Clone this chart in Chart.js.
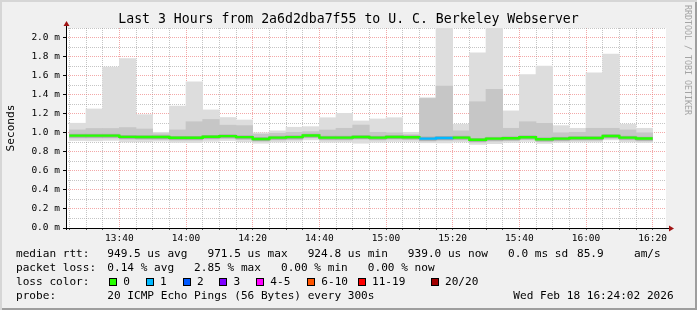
<!DOCTYPE html>
<html>
<head>
<meta charset="utf-8">
<title>Smokeping - last 3 hours</title>
<script src="https://cdn.jsdelivr.net/npm/chart.js@4.4.1/dist/chart.umd.min.js"></script>
<style>
  html, body { margin: 0; padding: 0; background: #f0f0f0; }
  #wrap {
    position: relative; width: 697px; height: 310px; overflow: hidden;
    background: #f0f0f0;
    box-shadow: inset 2px 2px 0 #d6d6d6, inset -2px -2px 0 #9e9e9e;
    font-family: 'DejaVu Sans Mono', monospace; color: #000;
  }
  #chart { position: absolute; left: 0; top: 0; }
  #title { position: absolute; left: 0; top: 11px; width: 697px; text-align: center;
           font-size: 13.2px; line-height: 16px; white-space: pre; }
  #mark { position: absolute; left: 683px; top: 5px; writing-mode: vertical-rl;
          font-size: 8.3px; line-height: 9px; color: #a4a4a4; white-space: pre; }
  .t { position: absolute; white-space: pre; font-size: 11.1px; line-height: 14px; }
  .sq { position: absolute; width: 6px; height: 6px; border: 1px solid #000; top: 277.5px; }
</style>
</head>
<body>
<div id="wrap">
  <canvas id="chart" width="697" height="310"></canvas>
  <div id="title">Last 3 Hours from 2a6d2dba7f55 to U. C. Berkeley Webserver</div>
  <div id="mark">RRDTOOL / TOBI OETIKER</div>
  <div id="legend"></div>
</div>
<script>
// bin start times, 5 min steps (20 pings every 300s)
const barStarts = ['13:25', '13:30', '13:35', '13:40', '13:45', '13:50', '13:55',
    '14:00', '14:05', '14:10', '14:15', '14:20', '14:25', '14:30', '14:35',
    '14:40', '14:45', '14:50', '14:55', '15:00', '15:05', '15:10', '15:15',
    '15:20', '15:25', '15:30', '15:35', '15:40', '15:45', '15:50', '15:55',
    '16:00', '16:05', '16:10', '16:15'];

// median rtt (ms)
const median = [0.970, 0.970, 0.970, 0.957, 0.955, 0.955, 0.947, 0.947, 0.958, 0.965,
    0.954, 0.935, 0.949, 0.954, 0.971, 0.949, 0.949, 0.956, 0.949, 0.956, 0.953,
    0.938, 0.945, 0.949, 0.926, 0.938, 0.942, 0.953, 0.932, 0.938, 0.945, 0.945,
    0.966, 0.949, 0.939];

// lost pings per bin
const loss = [0, 0, 0, 0, 0, 0, 0, 0, 0, 0, 0, 0, 0, 0, 0, 0, 0, 0, 0, 0, 0,
    1, 1, 0, 0, 0, 0, 0, 0, 0, 0, 0, 0, 0, 0];

// smoke: slowest / fastest ping
const smokeMax = [1.10, 1.25, 1.69, 1.78, 1.19, 1.005, 1.28, 1.535, 1.24, 1.16,
    1.134, 1.00, 1.02, 1.058, 1.064, 1.158, 1.204, 1.124, 1.145, 1.158, 1.005,
    1.368, 2.50, 1.09, 1.84, 2.50, 1.23, 1.61, 1.70, 1.075, 1.047, 1.63, 1.825,
    1.09, 1.047];
const smokeMin = [0.918, 0.915, 0.920, 0.905, 0.905, 0.912, 0.898, 0.895, 0.910, 0.918,
    0.905, 0.890, 0.902, 0.910, 0.925, 0.900, 0.902, 0.890, 0.900, 0.908, 0.908,
    0.895, 0.893, 0.903, 0.878, 0.885, 0.898, 0.908, 0.888, 0.898, 0.903, 0.902,
    0.925, 0.903, 0.897];

// smoke: second band
const smokeMidTop = [1.03, 1.045, 1.045, 1.055, 1.04, 0.99, 1.03, 1.116, 1.14, 1.08,
    1.075, 0.985, 0.995, 1.005, 1.012, 1.029, 1.047, 1.081, 1.005, 1.0, 0.98,
    1.36, 1.49, 1.02, 1.326, 1.455, 1.047, 1.116, 1.099, 1.0, 1.005, 1.047, 1.047,
    1.03, 1.0];
const smokeMidBot = [0.945, 0.945, 0.945, 0.932, 0.930, 0.930, 0.922, 0.922, 0.933, 0.940,
    0.929, 0.910, 0.924, 0.929, 0.946, 0.924, 0.924, 0.931, 0.924, 0.931, 0.928,
    0.913, 0.920, 0.924, 0.901, 0.913, 0.917, 0.928, 0.907, 0.913, 0.920, 0.920,
    0.941, 0.924, 0.914];

// smoke: inner band around the median
const smokeInTop = [0.985, 0.985, 0.985, 0.972, 0.970, 0.970, 0.962, 0.962, 0.973, 0.980,
    0.969, 0.950, 0.964, 0.969, 0.986, 0.964, 0.964, 0.971, 0.964, 0.971, 0.968,
    0.956, 0.962, 0.964, 0.941, 0.953, 0.957, 0.968, 0.947, 0.953, 0.960, 0.960,
    0.981, 0.964, 0.954];
const smokeInBot = [0.952, 0.952, 0.952, 0.939, 0.937, 0.937, 0.929, 0.929, 0.940, 0.947,
    0.936, 0.917, 0.931, 0.936, 0.953, 0.931, 0.931, 0.938, 0.931, 0.938, 0.935,
    0.920, 0.927, 0.931, 0.908, 0.920, 0.924, 0.935, 0.914, 0.920, 0.927, 0.927,
    0.948, 0.931, 0.921];

// axis labels
const xTickLabels = ['13:40', '14:00', '14:20', '14:40', '15:00', '15:20', '15:40', '16:00', '16:20'];
const yTickValues = [0, 0.2, 0.4, 0.6, 0.8, 1.0, 1.2, 1.4, 1.6, 1.8, 2.0];

// loss legend
const lossNames = ['0', '1', '2', '3', '4-5', '6-10', '11-19', '20/20'];
const lossColors = ['#26ff00', '#00b8ff', '#0059ff', '#7e00ff', '#ff00ff', '#ff5500', '#ff0000', '#a10000'];

const FONT = "'DejaVu Sans Mono', monospace";
const T0 = 13 * 60 + 24;   // graph start 13:24
const T1 = T0 + 180;       // graph end 16:24
const toMin = s => { const p = s.split(':').map(Number); return p[0] * 60 + p[1] - T0; };

const minorGrid = 'rgba(150, 150, 150, 0.55)';
const majorGrid = 'rgba(235, 110, 110, 0.6)';

// ---- text below the graph ----
const legendRows = [
    { top: 246.5, parts: [[16, 'median rtt:'], [107.3, '949.5 us avg   971.5 us max   924.8 us min   939.0 us now   0.0 ms sd'], [577, '85.9'], [634, 'am/s']] },
    { top: 260.7, parts: [[16, 'packet loss:'], [107.3, '0.14 % avg   2.85 % max   0.00 % min   0.00 % now']] },
    { top: 274.9, parts: [[16, 'loss color:']] },
    { top: 289.1, parts: [[16, 'probe:'], [107.3, '20 ICMP Echo Pings (56 Bytes) every 300s'], [513.3, 'Wed Feb 18 16:24:02 2026']] }
];
const lossBoxX = [109, 145.7, 182.7, 219.3, 256, 307, 357.7, 430.7];

const legend = document.getElementById('legend');
legendRows.forEach(row => {
    row.parts.forEach(([x, txt]) => {
        const d = document.createElement('div');
        d.className = 't';
        d.style.left = x + 'px';
        d.style.top = row.top + 'px';
        d.textContent = txt;
        legend.appendChild(d);
    });
});
lossNames.forEach((name, i) => {
    const sq = document.createElement('div');
    sq.className = 'sq';
    sq.style.left = lossBoxX[i] + 'px';
    sq.style.background = lossColors[i];
    legend.appendChild(sq);
    const d = document.createElement('div');
    d.className = 't';
    d.style.left = (lossBoxX[i] + 14.3) + 'px';
    d.style.top = '274.9px';
    d.textContent = name;
    legend.appendChild(d);
});

// ---- chart ----
function band(lo, hi) {
    return barStarts.map((t, i) => ({ x: toMin(t) + 2.5, y: [lo[i], hi[i]] }));
}

function lossColor(n) {
    if (n <= 0) return lossColors[0];
    if (n === 1) return lossColors[1];
    if (n === 2) return lossColors[2];
    if (n === 3) return lossColors[3];
    if (n <= 5) return lossColors[4];
    if (n <= 10) return lossColors[5];
    if (n <= 19) return lossColors[6];
    return lossColors[7];
}

const isMajorX = v => xTickLabels.some(l => toMin(l) === v);
const isMajorY = v => yTickValues.some(t => Math.abs(t - v) < 1e-6);

// median steps: one point per bin start, plus the end of the last bin
const medianPoints = barStarts.map((t, i) => ({ x: toMin(t), y: median[i] }));
medianPoints.push({ x: toMin(barStarts[barStarts.length - 1]) + 5, y: median[median.length - 1] });

const smokeStyle = {
    grouped: false,
    barPercentage: 1,
    categoryPercentage: 1,
    borderWidth: 0
};

const plotBackground = {
    id: 'plotBackground',
    beforeDraw(chart) {
        const { ctx, chartArea: a } = chart;
        ctx.save();
        ctx.fillStyle = '#ffffff';
        ctx.fillRect(a.left, a.top, a.right - a.left, a.bottom - a.top);
        ctx.restore();
    }
};

// rrdtool style axes with arrow heads
const rrdAxes = {
    id: 'rrdAxes',
    afterDraw(chart) {
        const { ctx, chartArea: a } = chart;
        ctx.save();
        ctx.strokeStyle = '#000';
        ctx.lineWidth = 1;
        ctx.beginPath();
        ctx.moveTo(a.left + 0.5, a.bottom + 2);
        ctx.lineTo(a.left + 0.5, a.top - 3);
        ctx.moveTo(a.left - 3, a.bottom + 0.5);
        ctx.lineTo(a.right + 3, a.bottom + 0.5);
        ctx.stroke();
        ctx.fillStyle = '#a01414';
        ctx.beginPath();
        ctx.moveTo(a.left + 0.5, a.top - 7);
        ctx.lineTo(a.left - 2.5, a.top - 2);
        ctx.lineTo(a.left + 3.5, a.top - 2);
        ctx.closePath();
        ctx.fill();
        ctx.beginPath();
        ctx.moveTo(a.right + 8, a.bottom + 0.5);
        ctx.lineTo(a.right + 3, a.bottom - 2.5);
        ctx.lineTo(a.right + 3, a.bottom + 3.5);
        ctx.closePath();
        ctx.fill();
        ctx.restore();
    }
};

new Chart(document.getElementById('chart'), {
    type: 'bar',
    data: {
        datasets: [
            {
                type: 'line',
                label: 'median rtt',
                data: medianPoints,
                stepped: true,
                borderWidth: 2.4,
                pointRadius: 0,
                borderColor: lossColors[0],
                segment: { borderColor: c => lossColor(loss[c.p0DataIndex]) },
                order: 0
            },
            Object.assign({ label: 'inner', data: band(smokeInBot, smokeInTop), backgroundColor: '#a9a9a9', order: 1 }, smokeStyle),
            Object.assign({ label: 'mid', data: band(smokeMidBot, smokeMidTop), backgroundColor: '#c6c6c6', order: 2 }, smokeStyle),
            Object.assign({ label: 'outer', data: band(smokeMin, smokeMax), backgroundColor: '#dddddd', order: 3 }, smokeStyle)
        ]
    },
    options: {
        responsive: false,
        animation: false,
        events: [],
        layout: { padding: { top: 28, right: 31, bottom: 0, left: 0 } },
        plugins: {
            legend: { display: false },
            title: { display: false },
            tooltip: { enabled: false }
        },
        scales: {
            x: {
                type: 'linear',
                min: 0,
                max: T1 - T0,
                offset: false,
                z: 1,
                afterBuildTicks: scale => {
                    const ticks = [];
                    for (let m = 1; m < T1 - T0; m += 5) ticks.push({ value: m });
                    scale.ticks = ticks;
                },
                afterFit: scale => { scale.height = 82; },
                grid: {
                    offset: false,
                    color: c => (c.tick && isMajorX(c.tick.value)) ? majorGrid : minorGrid,
                    lineWidth: 1,
                    drawTicks: true,
                    tickLength: 2,
                    tickColor: '#555'
                },
                border: { display: false, dash: [1, 1] },
                ticks: {
                    autoSkip: false,
                    maxRotation: 0,
                    padding: 3,
                    color: '#000',
                    font: { family: FONT, size: 9.5 },
                    callback: v => {
                        const l = xTickLabels.find(s => toMin(s) === v);
                        return l || '';
                    }
                }
            },
            y: {
                min: 0,
                max: 2.1,
                z: 1,
                afterBuildTicks: scale => {
                    const ticks = [];
                    for (let k = 0; k <= 21; k++) ticks.push({ value: k / 10 });
                    scale.ticks = ticks;
                },
                afterFit: scale => { scale.width = 66; },
                grid: {
                    color: c => (c.tick && isMajorY(c.tick.value)) ? majorGrid : minorGrid,
                    lineWidth: 1,
                    drawTicks: true,
                    tickLength: 3,
                    tickColor: c => (c.tick && isMajorY(c.tick.value)) ? '#000' : 'rgba(0,0,0,0)'
                },
                border: { display: false, dash: [1, 1] },
                ticks: {
                    autoSkip: false,
                    padding: 3,
                    color: '#000',
                    font: { family: FONT, size: 9.5 },
                    callback: v => isMajorY(v) ? v.toFixed(1) + ' m' : ''
                },
                title: {
                    display: true,
                    text: 'Seconds',
                    color: '#000',
                    font: { family: FONT, size: 11.1 },
                    padding: { top: 4, bottom: 0 }
                }
            }
        }
    },
    plugins: [plotBackground, rrdAxes]
});
</script>
</body>
</html>
